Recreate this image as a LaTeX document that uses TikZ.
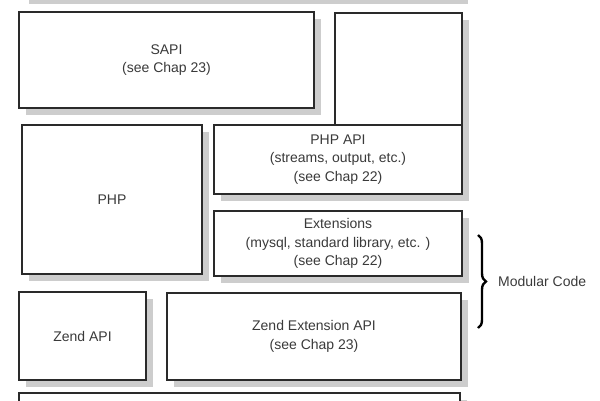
\documentclass[tikz,border=0pt]{standalone}
\usepackage{fontspec}
\setmainfont{Liberation Sans}
\usetikzlibrary{shadows}
\usetikzlibrary{decorations.pathreplacing}
\definecolor{edgegray}{HTML}{2A2A2A}
\definecolor{textgray}{HTML}{3A3A3A}
\definecolor{shadowgray}{HTML}{CDCDCD}
\tikzset{
	layer/.style = {
		rectangle,
		draw=edgegray,
		line width=1.7pt,
		fill=white,
		align=center,
		inner sep=0pt,
		text=textgray,
		font=\fontsize{14}{18.5}\selectfont,
		drop shadow={shadow xshift=7pt, shadow yshift=-7pt, fill=shadowgray, opacity=1}
	},
	modbrace/.style = {
		draw=black,
		line width=2.4pt,
		decorate,
		decoration={brace, amplitude=8pt}
	},
	sidelabel/.style = {
		anchor=west,
		text=textgray,
		inner sep=0pt,
		font=\fontsize{14}{18.5}\selectfont
	}
}

\begin{document}
\begin{tikzpicture}[x=1pt, y=-1pt]
\useasboundingbox (0,0) rectangle (600,400);
\node [layer, minimum width=439pt, minimum height=37pt] (web) at (241.5,-21.5) {};
\node [layer, minimum width=295pt, minimum height=96pt] (sapi) at (166.5,60) {SAPI\\(see Chap 23)};
\node [layer, minimum width=127pt, minimum height=112pt] (sapiside) at (398.5,69) {};
\node [layer, minimum width=180pt, minimum height=149pt] (php) at (112,199.5) {PHP};
\node [layer, minimum width=248pt, minimum height=69pt] (phpapi) at (338,159.5) {PHP API\\(streams, output, etc.)\\(see Chap 22)};
\node [layer, minimum width=248pt, minimum height=65pt] (ext) at (338,243.5) {Extensions\\(mysql, standard library, etc. )\\(see Chap 22)};
\node [layer, minimum width=127pt, minimum height=88pt] (zendapi) at (82.5,336) {Zend API};
\node [layer, minimum width=294pt, minimum height=87pt] (zendext) at (314,336.5) {Zend Extension API\\(see Chap 23)};
\node [layer, minimum width=441pt, minimum height=47pt] (engine) at (239.5,416.5) {};
\coordinate (bracetop) at (478,235);
\coordinate (bracebot) at (478,328);
\draw [modbrace] (bracetop) -- (bracebot);
\node [sidelabel] (modular) at (498,281.5) {Modular Code};
\end{tikzpicture}
\end{document}
